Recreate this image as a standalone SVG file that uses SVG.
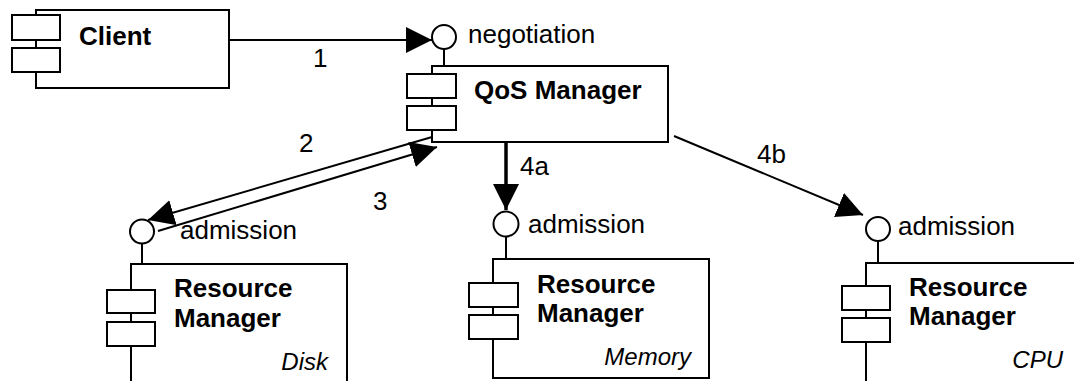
<svg xmlns="http://www.w3.org/2000/svg" width="1074" height="381" viewBox="0 0 1074 381">
<style>
.box{fill:#fff;stroke:#000;stroke-width:2}
.open{fill:none;stroke:#000;stroke-width:2}
.port{fill:#fff;stroke:#000;stroke-width:2}
.conn{stroke:#000;stroke-width:2;fill:none}
.t{font-family:"Liberation Sans",Arial,sans-serif;font-size:26px;fill:#000}
.b{font-weight:bold}
.i{font-style:italic;font-size:24px}
</style>
<defs>
<marker id="arr" markerUnits="userSpaceOnUse" markerWidth="27" markerHeight="27" refX="26" refY="13" orient="auto">
<path d="M0,0 L26,13 L0,26 z" fill="#000"/>
</marker>
</defs>
<rect width="1074" height="381" fill="#fff"/>
<g id="client">
<rect class="box" x="36" y="10" width="193" height="78"/>
<rect class="box" x="12" y="15" width="48" height="25"/>
<rect class="box" x="12" y="48" width="48" height="24"/>
<text class="t b" x="79" y="45">Client</text>
</g>
<g id="qos">
<line class="conn" x1="444" y1="49" x2="444" y2="66"/>
<circle class="port" cx="444" cy="37" r="12"/>
<text class="t" x="468" y="43">negotiation</text>
<rect class="box" x="432" y="66" width="236" height="76"/>
<rect class="box" x="407" y="74" width="49" height="24"/>
<rect class="box" x="407" y="106" width="49" height="24"/>
<text class="t b" x="474" y="99">QoS Manager</text>
</g>
<g id="rm-disk">
<line class="conn" x1="142" y1="243.5" x2="142" y2="264"/>
<circle class="port" cx="142" cy="231.5" r="12"/>
<text class="t" x="180" y="239">admission</text>
<path class="open" d="M131,382 V264 H347 V382"/>
<rect class="box" x="107" y="290" width="48" height="23"/>
<rect class="box" x="107" y="322" width="48" height="24"/>
<text class="t b" x="174" y="297">Resource</text>
<text class="t b" x="174" y="327">Manager</text>
<text class="t i" x="328" y="370" text-anchor="end">Disk</text>
</g>
<g id="rm-memory">
<line class="conn" x1="506" y1="236.5" x2="506" y2="259"/>
<circle class="port" cx="506" cy="224" r="12.5"/>
<text class="t" x="528" y="233">admission</text>
<rect class="box" x="493" y="259" width="216" height="119"/>
<rect class="box" x="469" y="283" width="49" height="24"/>
<rect class="box" x="469" y="315" width="49" height="24"/>
<text class="t b" x="537" y="293">Resource</text>
<text class="t b" x="537" y="322">Manager</text>
<text class="t i" x="691" y="365" text-anchor="end">Memory</text>
</g>
<g id="rm-cpu">
<line class="conn" x1="878" y1="241" x2="878" y2="263"/>
<circle class="port" cx="878" cy="229" r="12"/>
<text class="t" x="898" y="235">admission</text>
<path class="open" d="M866,382 V263 H1075"/>
<rect class="box" x="842" y="286" width="48" height="24"/>
<rect class="box" x="842" y="318" width="48" height="24"/>
<text class="t b" x="909" y="296">Resource</text>
<text class="t b" x="909" y="325">Manager</text>
<text class="t i" x="1063" y="368" text-anchor="end">CPU</text>
</g>
<g id="connectors">
<line class="conn" x1="229" y1="40" x2="432" y2="40" marker-end="url(#arr)"/>
<line class="conn" x1="432" y1="137" x2="148" y2="220" marker-end="url(#arr)"/>
<line class="conn" x1="158" y1="231" x2="437" y2="147" marker-end="url(#arr)"/>
<line class="conn" x1="506" y1="142" x2="506" y2="210" stroke-width="3.5" style="stroke-width:3.5" marker-end="url(#arr)"/>
<line class="conn" x1="674" y1="136" x2="863" y2="215" marker-end="url(#arr)"/>
<text class="t" x="313" y="67">1</text>
<text class="t" x="299" y="152">2</text>
<text class="t" x="373" y="210">3</text>
<text class="t" x="520" y="175">4a</text>
<text class="t" x="757" y="163">4b</text>
</g>
</svg>
